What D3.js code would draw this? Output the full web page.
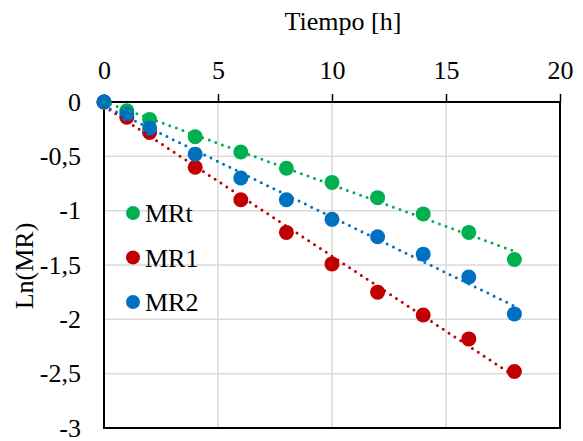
<!DOCTYPE html>
<html>
<head>
<meta charset="utf-8">
<script src="https://cdn.jsdelivr.net/npm/d3@7"></script>
<style>
  body { margin: 0; background: #fff; }
</style>
</head>
<body>
<svg id="chart" width="583" height="441"></svg>
<script>
const tiempo = [0, 1, 2, 4, 6, 8, 10, 12, 14, 16, 18]
const mrt = [0, -0.08, -0.16, -0.32, -0.46, -0.61, -0.74, -0.88, -1.03, -1.20, -1.45]
const mr1 = [0, -0.14, -0.28, -0.60, -0.90, -1.20, -1.49, -1.75, -1.96, -2.18, -2.48]
const mr2 = [0, -0.11, -0.24, -0.48, -0.70, -0.90, -1.08, -1.24, -1.40, -1.61, -1.95]
const seriesNames = ["MRt", "MR1", "MR2"]
const seriesColors = ["#00B050", "#C00000", "#0070C0"]
const xTicks = [0, 5, 10, 15, 20]
const yTicks = [0, -0.5, -1, -1.5, -2, -2.5, -3]

const serif = '"Liberation Serif"'

const series = [mrt, mr1, mr2].map((vals, i) => ({
  name: seriesNames[i],
  color: seriesColors[i],
  points: vals.map((v, j) => ({ x: tiempo[j], y: v }))
}))

const margin = { top: 102, right: 23, bottom: 13, left: 104 }
const width = 583 - margin.left - margin.right
const height = 441 - margin.top - margin.bottom

const svg = d3.select("#chart")
const g = svg.append("g").attr("transform", `translate(${margin.left},${margin.top})`)

const x = d3.scaleLinear().domain([0, 20]).range([0, width])
const y = d3.scaleLinear().domain([0, -3]).range([0, height])

const fmt = d => String(d).replace(".", ",")

// grid
g.selectAll(".vgrid")
  .data(xTicks.slice(1, -1))
  .enter()
  .append("line")
  .attr("x1", d => x(d)).attr("x2", d => x(d))
  .attr("y1", 0).attr("y2", height)
  .attr("stroke", "#d9d9d9").attr("stroke-width", 1.5)

g.selectAll(".hgrid")
  .data(yTicks.slice(1, -1))
  .enter()
  .append("line")
  .attr("x1", 0).attr("x2", width)
  .attr("y1", d => y(d)).attr("y2", d => y(d))
  .attr("stroke", "#d9d9d9").attr("stroke-width", 1.5)

// top axis
const xAxis = g.append("g")
  .call(d3.axisTop(x).tickValues(xTicks).tickSize(8).tickFormat(fmt))
xAxis.attr("font-family", null).attr("font-size", null)
xAxis.select(".domain").remove()
xAxis.selectAll("line").attr("stroke", "#000").attr("stroke-width", 1.5)
xAxis.selectAll("text")
  .attr("y", -23)
  .attr("fill", "#000")
  .style("font-size", "26px")
  .style("font-family", serif)

// left axis labels
const yAxis = g.append("g")
  .call(d3.axisLeft(y).tickValues(yTicks).tickSize(0).tickFormat(fmt))
yAxis.attr("font-family", null).attr("font-size", null)
yAxis.select(".domain").remove()
yAxis.selectAll("text")
  .attr("x", -23)
  .attr("fill", "#000")
  .style("font-size", "26px")
  .style("font-family", serif)

// border
g.append("rect")
  .attr("width", width).attr("height", height)
  .attr("fill", "none").attr("stroke", "#000").attr("stroke-width", 2)

// markers
series.forEach(s => {
  g.append("g")
    .selectAll("circle")
    .data(s.points)
    .enter()
    .append("circle")
    .attr("cx", d => x(d.x))
    .attr("cy", d => y(d.y))
    .attr("r", 7.5)
    .attr("fill", s.color)
})

// linear trendlines
series.forEach(s => {
  const n = s.points.length
  const mx = d3.mean(s.points, d => d.x)
  const my = d3.mean(s.points, d => d.y)
  const slope = d3.sum(s.points, d => (d.x - mx) * (d.y - my)) / d3.sum(s.points, d => (d.x - mx) ** 2)
  const icpt = my - slope * mx
  const ends = [s.points[0].x, s.points[n - 1].x]
  g.append("line")
    .attr("x1", x(ends[0])).attr("y1", y(icpt + slope * ends[0]))
    .attr("x2", x(ends[1])).attr("y2", y(icpt + slope * ends[1]))
    .attr("stroke", s.color)
    .attr("stroke-width", 3)
    .attr("stroke-linecap", "round")
    .attr("stroke-dasharray", "0,7")
})

// legend
const legend = g.append("g")
series.forEach((s, i) => {
  const ly = 111 + i * 44.5
  legend.append("circle")
    .attr("cx", 29).attr("cy", ly).attr("r", 7)
    .attr("fill", s.color)
  legend.append("text")
    .attr("x", 41).attr("y", ly)
    .attr("dy", "0.35em")
    .style("font-family", serif)
    .style("font-size", "26px")
    .text(s.name)
})

// titles
svg.append("text")
  .attr("x", 343).attr("y", 30)
  .attr("text-anchor", "middle")
  .style("font-family", serif)
  .style("font-size", "26px")
  .text("Tiempo [h]")

svg.append("text")
  .attr("transform", "translate(33,266) rotate(-90)")
  .attr("text-anchor", "middle")
  .style("font-family", serif)
  .style("font-size", "26px")
  .text("Ln(MR)")
</script>
</body>
</html>
